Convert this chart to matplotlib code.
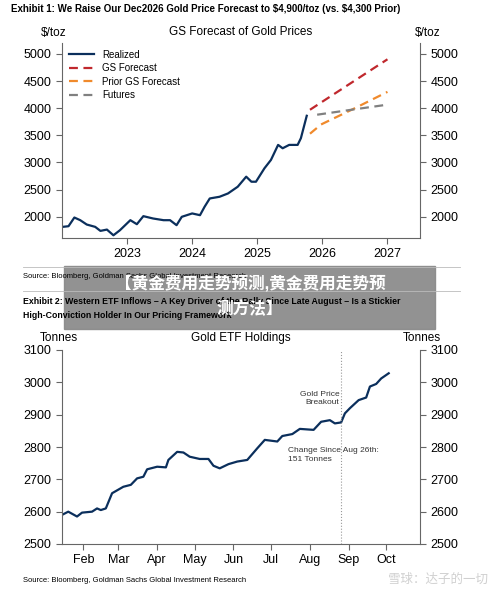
import matplotlib.pyplot as plt
import matplotlib.dates as mdates
import datetime as dt

plt.rcParams['font.family'] = ['Liberation Sans', 'Noto Sans CJK SC', 'DejaVu Sans']

# Exhibit 1 data (fractional years, $/toz)
realized_t = [2022.01, 2022.10, 2022.19, 2022.28, 2022.38, 2022.51, 2022.59, 2022.69, 2022.79, 2022.89,
              2023.05, 2023.15, 2023.25, 2023.40, 2023.56, 2023.66, 2023.76, 2023.84, 2024.00, 2024.12,
              2024.19, 2024.27, 2024.42, 2024.55, 2024.70, 2024.83, 2024.91, 2024.98, 2025.11, 2025.21,
              2025.32, 2025.39, 2025.49, 2025.62, 2025.67, 2025.76]
realized_v = [1815, 1827, 1987, 1938, 1858, 1815, 1741, 1765, 1660, 1753,
              1938, 1864, 2012, 1969, 1938, 1938, 1846, 2000, 2062, 2030,
              2184, 2338, 2369, 2430, 2554, 2739, 2646, 2646, 2893, 3047,
              3324, 3262, 3324, 3324, 3447, 3860]
gs_t = [2025.81, 2026.0, 2026.5, 2027.0]
gs_v = [3971, 4120, 4510, 4900]
prior_t = [2025.81, 2025.98, 2026.5, 2027.0]
prior_v = [3530, 3700, 4000, 4300]
fut_t = [2025.92, 2026.5, 2027.0]
fut_v = [3880, 3980, 4065]

# Exhibit 2 data (day of year 2025, tonnes)
etf_day = [15.5, 20, 27, 31, 39, 43, 46, 50, 55, 64, 70, 75, 80, 83, 91, 98, 100, 107, 112, 117,
           125, 132, 136, 141, 148, 155, 163, 171, 177, 187, 191, 199, 205, 216, 222, 229, 233, 238,
           241, 245, 252, 258, 261, 266, 270, 276]
etf_val = [2590, 2600, 2585, 2597, 2600, 2610, 2605, 2610, 2657, 2677, 2683, 2703, 2708, 2731, 2739,
           2737, 2760, 2785, 2783, 2770, 2763, 2763, 2742, 2734, 2747, 2755, 2760, 2796, 2822, 2817,
           2834, 2840, 2856, 2853, 2878, 2883, 2873, 2876, 2904, 2920, 2945, 2953, 2987, 2995, 3012, 3028]
breakout_day = 238

W, H = 500, 595
fig = plt.figure(figsize=(W / 100, H / 100), dpi=100)


def box(l, t, r, b):
    return [l / W, 1 - b / H, (r - l) / W, (b - t) / H]


def style(ax):
    ax.spines['top'].set_visible(False)
    for s in ax.spines.values():
        s.set_color('#666666')
    ax.tick_params(labelsize=9, color='#666666', length=4)


# ---- Exhibit 1
ax1 = fig.add_axes(box(62, 43, 420, 238))
ax1.plot(realized_t, realized_v, color='#0b2f5c', lw=1.6, label='Realized')
ax1.plot(gs_t, gs_v, color='#c0282d', lw=1.6, ls=(0, (4, 2.5)), label='GS Forecast')
ax1.plot(prior_t, prior_v, color='#f08a2c', lw=1.6, ls=(0, (4, 2.5)), label='Prior GS Forecast')
ax1.plot(fut_t, fut_v, color='#808080', lw=1.6, ls=(0, (4, 2.5)), label='Futures')
ax1.set_xlim(2022.0, 2027.5)
ax1.set_ylim(1610, 5200)
ax1.set_xticks([2023, 2024, 2025, 2026, 2027])
ax1.set_yticks(range(2000, 5001, 500))
ax1.tick_params(right=True, labelright=True)
style(ax1)
ax1.legend(loc='upper left', frameon=False, fontsize=7, handlelength=2.6, borderaxespad=0.3,
           labelspacing=0.35, bbox_to_anchor=(0.0, 1.0))
fig.text(11 / W, 1 - 9 / H, r'Exhibit 1: We Raise Our Dec2026 Gold Price Forecast to \$4,900/toz (vs. \$4,300 Prior)',
         fontsize=7, fontweight='bold', va='center')
fig.text(241 / W, 1 - 32 / H, 'GS Forecast of Gold Prices', fontsize=8.5, ha='center', va='center')
fig.text(54 / W, 1 - 33 / H, r'\$/toz', fontsize=8.5, ha='center', va='center')
fig.text(428 / W, 1 - 33 / H, r'\$/toz', fontsize=8.5, ha='center', va='center')
fig.text(23 / W, 1 - 276 / H, 'Source: Bloomberg, Goldman Sachs Global Investment Research', fontsize=5.5, va='center')
fig.add_artist(plt.Line2D([23 / W, 460 / W], [1 - 267 / H] * 2, color='#bbbbbb', lw=0.6))
fig.add_artist(plt.Line2D([23 / W, 460 / W], [1 - 291 / H] * 2, color='#bbbbbb', lw=0.6))

# ---- Exhibit 2
fig.text(23 / W, 1 - 302 / H, 'Exhibit 2: Western ETF Inflows – A Key Driver of the Rally Since Late August – Is a Stickier',
         fontsize=6.3, fontweight='bold', va='center')
fig.text(23 / W, 1 - 315 / H, 'High-Conviction Holder In Our Pricing Framework', fontsize=6.3, fontweight='bold', va='center')
ax2 = fig.add_axes(box(62, 350, 420, 544))
dates = [dt.date(2025, 1, 1) + dt.timedelta(days=d - 1) for d in etf_day]
ax2.plot(dates, etf_val, color='#0b2f5c', lw=1.6)
bd = dt.date(2025, 1, 1) + dt.timedelta(days=breakout_day - 1)
ax2.axvline(bd, color='#999999', lw=0.8, ls=':')
ax2.set_xlim(dt.date(2025, 1, 15), dt.date(2025, 10, 28))
ax2.set_ylim(2500, 3100)
ax2.set_yticks(range(2500, 3101, 100))
ax2.xaxis.set_major_locator(mdates.MonthLocator(bymonth=range(2, 11)))
ax2.xaxis.set_major_formatter(mdates.DateFormatter('%b'))
ax2.tick_params(right=True, labelright=True)
style(ax2)
ax2.text(0.775, 0.75, 'Gold Price\nBreakout', transform=ax2.transAxes, fontsize=6, ha='right', va='center',
         color='#333333', linespacing=1.3)
ax2.text(0.63, 0.46, 'Change Since Aug 26th:\n151 Tonnes', transform=ax2.transAxes, fontsize=6, ha='left',
         va='center', color='#333333', linespacing=1.3)
fig.text(241 / W, 1 - 338 / H, 'Gold ETF Holdings', fontsize=8.5, ha='center', va='center')
fig.text(59 / W, 1 - 338 / H, 'Tonnes', fontsize=8.5, ha='center', va='center')
fig.text(422 / W, 1 - 338 / H, 'Tonnes', fontsize=8.5, ha='center', va='center')
fig.text(23 / W, 1 - 581 / H, 'Source: Bloomberg, Goldman Sachs Global Investment Research', fontsize=5.5, va='center')
fig.text(488 / W, 1 - 580 / H, '雪球：达子的一切', fontsize=9, color='#d0d0d0', ha='right', va='center')

# ---- overlay banner
fig.add_artist(plt.Rectangle((64 / W, 1 - 329 / H), 371 / W, 63 / H, color='#8a8a8a', alpha=0.93))
fig.text(250 / W, 1 - 283 / H, '【黄金费用走势预测,黄金费用走势预', fontsize=12, fontweight='bold', color='white',
         ha='center', va='center')
fig.text(250 / W, 1 - 309 / H, '测方法】', fontsize=12, fontweight='bold', color='white', ha='center', va='center')

fig.savefig('out.png', dpi=100)
